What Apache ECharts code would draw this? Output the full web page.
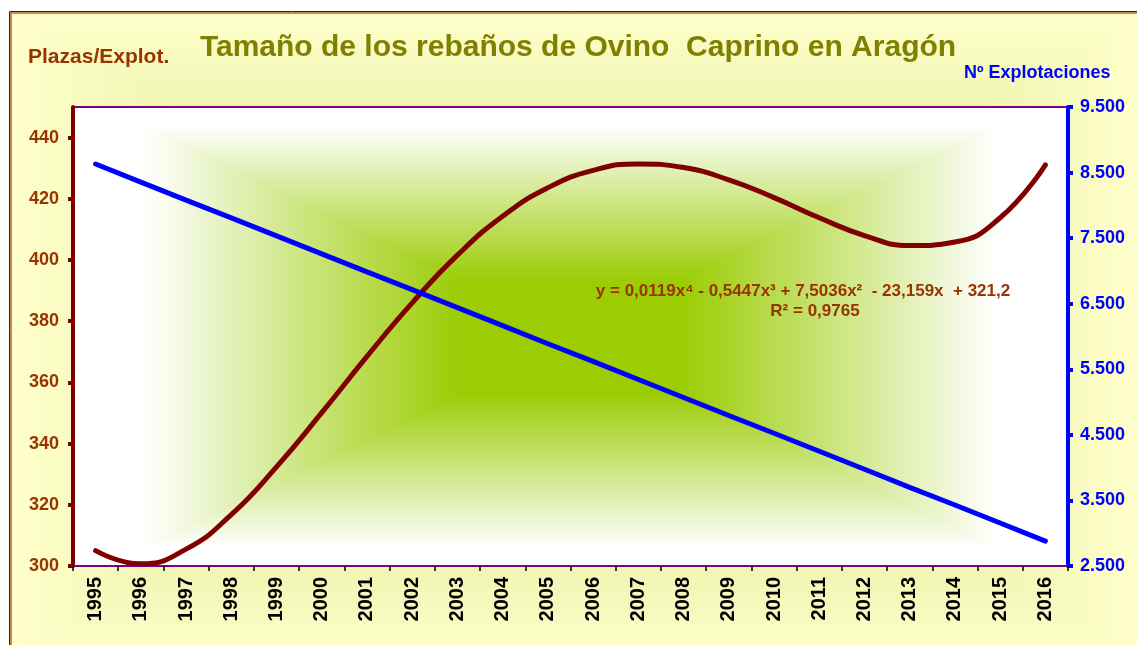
<!DOCTYPE html>
<html>
<head>
<meta charset="utf-8">
<script src="https://cdn.jsdelivr.net/npm/echarts@6/dist/echarts.min.js"></script>
<style>
  html, body { margin: 0; padding: 0; background: #fff; }
  #chart { width: 1137px; height: 645px; }
</style>
</head>
<body>
<div id="chart"></div>
<script>
// years on the category axis
const years = ['1995', '1996', '1997', '1998', '1999', '2000', '2001', '2002', '2003', '2004', '2005',
  '2006', '2007', '2008', '2009', '2010', '2011', '2012', '2013', '2014', '2015', '2016'];

// plazas por explotacion (brown curve, left axis)
const plazasExplot = [305.0, 300.7, 305.5, 316.8, 332.4, 350.1, 368.5, 386.0, 401.6, 414.3, 423.6,
  429.3, 431.4, 430.2, 426.2, 420.4, 413.8, 408.0, 404.7, 405.9, 413.8, 431.1];

// numero de explotaciones (blue line, right axis)
const numExplot = [8630, 8355, 8080, 7810, 7535, 7260, 6985, 6715, 6440, 6165, 5890,
  5620, 5345, 5070, 4795, 4525, 4250, 3975, 3700, 3430, 3155, 2880];

const titleText = 'Tamaño de los rebaños de Ovino  Caprino en Aragón';
const leftName = 'Plazas/Explot.';
const rightName = 'Nº Explotaciones';
const formulaText = 'y = 0,0119x⁴ - 0,5447x³ + 7,5036x²  - 23,159x  + 321,2';
const r2Text = 'R² = 0,9765';

const font = 'Arial, "Liberation Sans", sans-serif';

// grid box in px
const G = { x: 73, y: 107, w: 995, h: 459 };

const lin = (x2, y2, stops) => ({
  type: 'linear', x: 0, y: 0, x2: x2, y2: y2,
  colorStops: stops.map(s => ({ offset: s[0], color: s[1] }))
});

const plotStopsH = [[0, '#ffffff'], [0.07, '#ffffff'], [0.39, '#9bcc04'], [0.61, '#9bcc04'], [0.93, '#ffffff'], [1, '#ffffff']];
const plotStopsV = [[0, '#ffffff'], [0.04, '#ffffff'], [0.38, '#9bcc04'], [0.62, '#9bcc04'], [0.96, '#ffffff'], [1, '#ffffff']];
const outerStops = [[0, '#ffffcc'], [0.5, '#c8de72'], [1, '#ffffcc']];

const chart = echarts.init(document.getElementById('chart'), null, { renderer: 'canvas' });

chart.setOption({
  animation: false,
  backgroundColor: '#ffffff',
  graphic: [
    // outer panel, rectangular "from centre" gradient built from two blended linear ones
    { type: 'rect', z: -5, shape: { x: 9, y: 11, width: 1140, height: 650 }, style: { fill: lin(1, 0, outerStops) } },
    { type: 'rect', z: -5, shape: { x: 9, y: 11, width: 1140, height: 650 }, style: { fill: lin(0, 1, outerStops), blend: 'lighten' } },
    { type: 'rect', z: -4, shape: { x: 9.5, y: 11.5, width: 1140, height: 650 }, style: { fill: null, stroke: '#3a2000', lineWidth: 1 } },
    { type: 'rect', z: -4, shape: { x: 11, y: 13, width: 1140, height: 650 }, style: { fill: null, stroke: '#c0602a', lineWidth: 1.5 } },
    // plot area
    { type: 'rect', z: -3, shape: { x: G.x, y: G.y, width: G.w, height: G.h }, style: { fill: lin(1, 0, plotStopsH) } },
    { type: 'rect', z: -3, shape: { x: G.x, y: G.y, width: G.w, height: G.h }, style: { fill: lin(0, 1, plotStopsV), blend: 'lighten' } },
    // texts
    { type: 'text', z: 5, x: 578, y: 48, style: { text: titleText, fill: '#808000', font: 'bold 30px ' + font, textAlign: 'center', textVerticalAlign: 'middle' } },
    { type: 'text', z: 5, x: 28, y: 57, style: { text: leftName, fill: '#993300', font: 'bold 21px ' + font, textAlign: 'left', textVerticalAlign: 'middle' } },
    { type: 'text', z: 5, x: 964, y: 73, style: { text: rightName, fill: '#0000ff', font: 'bold 18px ' + font, textAlign: 'left', textVerticalAlign: 'middle' } },
    { type: 'text', z: 5, x: 803, y: 291, style: { text: formulaText, fill: '#993300', font: 'bold 17px ' + font, textAlign: 'center', textVerticalAlign: 'middle' } },
    { type: 'text', z: 5, x: 815, y: 311, style: { text: r2Text, fill: '#993300', font: 'bold 17px ' + font, textAlign: 'center', textVerticalAlign: 'middle' } }
  ],
  grid: {
    left: G.x, top: G.y, width: G.w, height: G.h,
    outerBoundsMode: 'none',
    show: true, backgroundColor: 'transparent', borderColor: '#800080', borderWidth: 2
  },
  xAxis: {
    type: 'category',
    data: years,
    boundaryGap: true,
    axisLine: { lineStyle: { color: '#800080', width: 2 } },
    axisTick: { show: true, length: 5, lineStyle: { color: '#000000', width: 1.5 } },
    axisLabel: { rotate: 90, color: '#000000', fontWeight: 'bold', fontSize: 20, fontFamily: font, margin: 11, interval: 0 },
    splitLine: { show: false }
  },
  yAxis: [
    {
      type: 'value', position: 'left',
      min: 300, max: 450, interval: 20,
      axisLine: { show: true, lineStyle: { color: '#800000', width: 4 } },
      axisTick: { show: true, length: 5, lineStyle: { color: '#800000', width: 4 } },
      axisLabel: { color: '#993300', fontWeight: 'bold', fontSize: 18, fontFamily: font, margin: 14, showMaxLabel: false },
      splitLine: { show: false }
    },
    {
      type: 'value', position: 'right',
      min: 2500, max: 9500, interval: 1000,
      axisLine: { show: true, lineStyle: { color: '#0000ff', width: 4 } },
      axisTick: { show: true, length: 5, lineStyle: { color: '#0000ff', width: 4 } },
      axisLabel: {
        color: '#0000ff', fontWeight: 'bold', fontSize: 18, fontFamily: font, margin: 12,
        formatter: v => (v / 1000).toFixed(3)
      },
      splitLine: { show: false }
    }
  ],
  series: [
    {
      name: leftName, type: 'line', yAxisIndex: 0, data: plazasExplot,
      smooth: 0.5, smoothConstraint: false, symbol: 'none', z: 3,
      lineStyle: { color: '#800000', width: 5, cap: 'round' }
    },
    {
      name: rightName, type: 'line', yAxisIndex: 1, data: numExplot,
      symbol: 'none', z: 4,
      lineStyle: { color: '#0000ff', width: 5, cap: 'round' }
    }
  ]
});
</script>
</body>
</html>
